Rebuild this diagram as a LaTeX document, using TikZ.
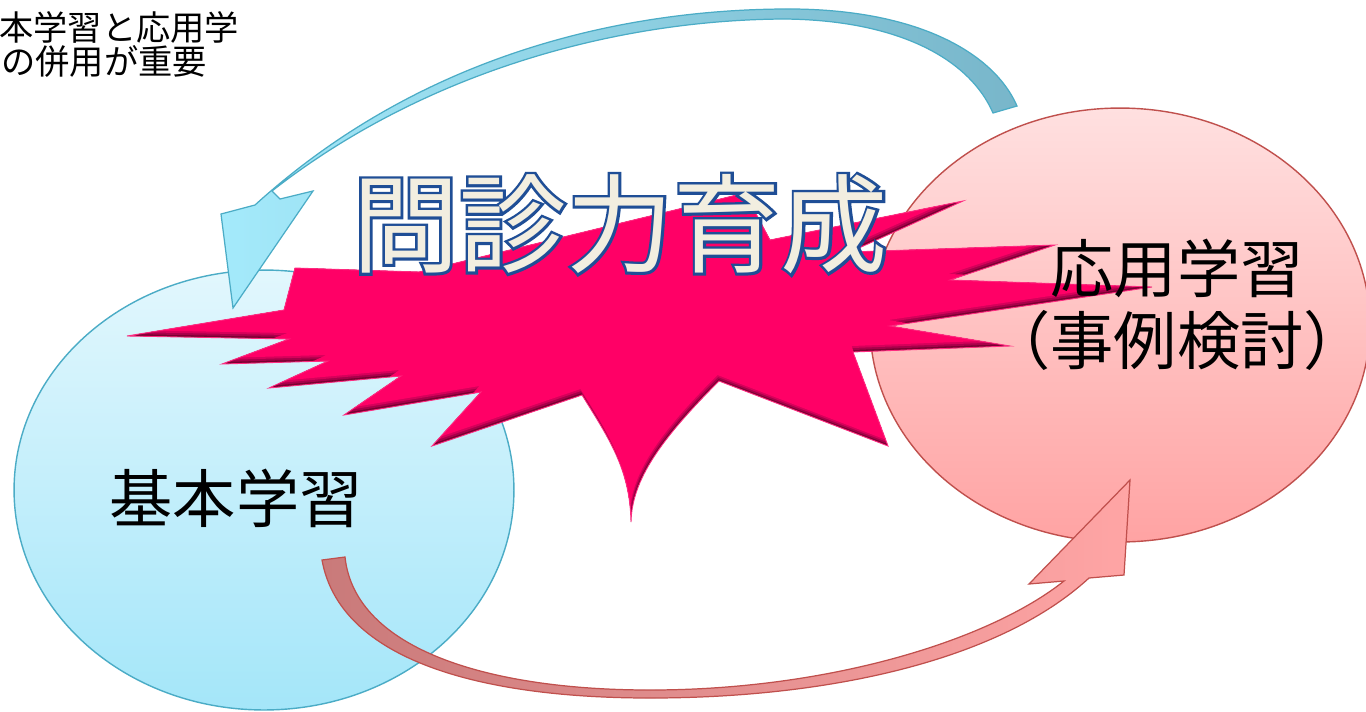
\documentclass[tikz,border=0pt]{standalone}
\usepackage{fontspec}
\newfontfamily\jp{Noto Sans CJK JP}
\newfontfamily\jpout[FakeBold=5]{Noto Sans CJK JP}
\usetikzlibrary{shapes.geometric}
\definecolor{bluefillA}{HTML}{E2F7FD}
\definecolor{bluefillB}{HTML}{A4E6F9}
\definecolor{bluestroke}{HTML}{4BACC6}
\definecolor{pinkfillA}{HTML}{FFE0E0}
\definecolor{pinkfillB}{HTML}{FFA3A3}
\definecolor{pinkstroke}{HTML}{C0504D}
\definecolor{starcol}{HTML}{FF0066}
\definecolor{starA}{HTML}{7A0030}
\definecolor{starB}{HTML}{A8004A}
\definecolor{starC}{HTML}{D6005A}
\definecolor{starline}{HTML}{FF2A80}
\definecolor{barrowL}{HTML}{A4EAFB}
\definecolor{barrowR}{HTML}{78B6CA}
\definecolor{parrowL}{HTML}{C97A7A}
\definecolor{parrowR}{HTML}{FFA5A5}
\definecolor{titlefill}{HTML}{F2EEE0}
\definecolor{titleline}{HTML}{1F4E96}
\tikzset{
  blueblob/.style={ellipse, draw=bluestroke, line width=0.8pt, top color=bluefillA, bottom color=bluefillB, minimum width=10cm, minimum height=8.8cm, inner sep=0pt},
  pinkblob/.style={ellipse, draw=pinkstroke, line width=0.8pt, top color=pinkfillA, bottom color=pinkfillB, minimum width=10cm, minimum height=8.68cm, inner sep=0pt},
  bigtext/.style={font=\jp\fontsize{36pt}{40pt}\selectfont, text=black, inner sep=0pt},
  notetext/.style={font=\jp\fontsize{19.5pt}{22pt}\selectfont, text=black, inner sep=0pt, anchor=west},
  titletext/.style={font=\jp\fontsize{61pt}{66pt}\selectfont, inner sep=0pt},
  titleoutline/.style={font=\jpout\fontsize{61pt}{66pt}\selectfont, inner sep=0pt},
  bluearrow/.style={draw=bluestroke, line width=0.7pt, left color=barrowL, right color=barrowR, line join=miter},
  pinkarrow/.style={draw=pinkstroke, line width=0.7pt, left color=parrowL, right color=parrowR, line join=miter}
}
\def\starpath{(295,268) -- (419,272) -- (745,193) -- (770,240) -- (963,201) -- (850,252) -- (1055,245) -- (950,280) -- (1152,287) -- (890,326) -- (1010,346) -- (853,352) -- (888,446) -- (719,381) .. controls (660,440) and (632,480) .. (631,522) .. controls (630,470) and (610,440) .. (582,395) -- (432,446) -- (481,392) -- (344,415) -- (401,376) -- (269,388) -- (328,361) -- (222,364) -- (289,339) -- (127,336) -- (284,310) -- cycle}
\begin{document}
\begin{tikzpicture}[x=0.02cm, y=-0.02cm]
\useasboundingbox (0,0) rectangle (1366,711);
\fill[white] (0,0) rectangle (1366,711);
% circles
\node[blueblob] (basic) at (264,490) {};
\node[pinkblob] (applied) at (1120,325) {};
% blue curved arrow (applied -> basic)
\path[bluearrow] (233,308) -- (221,214) -- (255,205)
  .. controls (420,55) and (620,10) .. (784,9)
  .. controls (920,8) and (995,55) .. (1017,106)
  -- (993,113)
  .. controls (970,60) and (900,20) .. (784,19)
  .. controls (610,20) and (420,75) .. (272,191)
  -- (280,199) -- (313,191) -- cycle;
% pink curved arrow (basic -> applied)
\path[pinkarrow] (1130,480) -- (1124,575) -- (1089,578)
  .. controls (1000,660) and (830,698) .. (650,698)
  .. controls (480,698) and (340,660) .. (322,560)
  -- (345,557)
  .. controls (355,650) and (490,690) .. (650,690)
  .. controls (830,690) and (990,640) .. (1064,581)
  -- (1029,584) -- cycle;
% explosion
\begin{scope}
  \clip \starpath;
  \fill[starA] \starpath;
  \fill[starB, shift={(-0.5,-2)}] \starpath;
  \fill[starC, shift={(-1,-4)}] \starpath;
  \fill[starcol, shift={(-1.5,-6)}] \starpath;
\end{scope}
\draw[starline, line width=0.5pt, line join=miter] \starpath;
% texts
\node[bigtext] (basiclabel) at (236,498) {基本学習};
\node[bigtext] (appliedlabel) at (1177,268) {応用学習};
\node[bigtext] (caselabel) at (1177,340) {（事例検討）};
\node[notetext] (note1) at (-1,27) {本学習と応用学};
\node[notetext] (note2) at (1,62) {の併用が重要};
% title with outline
\node[titleoutline, text=titleline] (titleborder) at (620,224) {問診力育成};
\node[titletext, text=titlefill] (title) at (620,224) {問診力育成};
\end{tikzpicture}
\end{document}
